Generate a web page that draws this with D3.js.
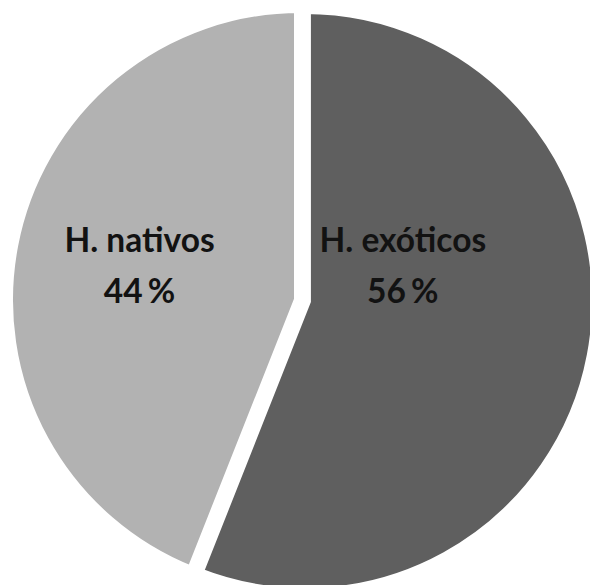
<!DOCTYPE html>
<html>
<head>
<meta charset="utf-8">
<script src="https://cdn.jsdelivr.net/npm/d3@7"></script>
<style>
  html, body { margin: 0; padding: 0; background: #fff; overflow: hidden; }
</style>
</head>
<body>
<script>
const categories = ["H. exóticos", "H. nativos"];
const percents = [56, 44];
const colors = ["#5f5f5f", "#b2b2b2"];
const explode = [5, 0];

const width = 590;
const height = 585;
const cx = 300;
const cy = 300;
const radius = 287;
const border = 12;

const svg = d3.select("body")
    .append("svg")
    .attr("width", width)
    .attr("height", height);

const g = svg.append("g")
    .attr("transform", `translate(${cx},${cy})`);

const pie = d3.pie().sort(null).value(d => d);
const arcs = pie(percents);

// white border (half of it sits outside the visible radius)
const arc = d3.arc().innerRadius(0).outerRadius(radius + border / 2);

const shift = (d, i) => {
    const mid = (d.startAngle + d.endAngle) / 2;
    return [explode[i] * Math.sin(mid), -explode[i] * Math.cos(mid)];
};

const slices = g.selectAll("g.slice")
    .data(arcs)
    .enter()
    .append("g")
    .attr("class", "slice")
    .attr("transform", (d, i) => `translate(${shift(d, i)})`);

slices.append("path")
    .attr("d", arc)
    .attr("fill", (d, i) => colors[i])
    .attr("stroke", "#fff")
    .attr("stroke-width", border)
    .attr("stroke-linejoin", "miter");

// label anchors (angle from top, distance from slice centre)
const labelPos = [
    { angle: 70.3 * Math.PI / 180, r: 104 },
    { angle: 282 * Math.PI / 180, r: 164 }
];

const labels = slices.append("text")
    .attr("text-anchor", "middle")
    .attr("font-family", "Lato, 'Open Sans', sans-serif")
    .attr("font-weight", "bold")
    .attr("font-size", 33.5)
    .attr("fill", "#121212")
    .attr("transform", (d, i) => {
        const p = labelPos[i];
        return `translate(${p.r * Math.sin(p.angle)},${-p.r * Math.cos(p.angle)})`;
    });

labels.append("tspan")
    .attr("x", 0)
    .attr("y", -14)
    .text((d, i) => categories[i]);

labels.append("tspan")
    .attr("x", 0)
    .attr("y", 37)
    .attr("word-spacing", -3)
    .text((d, i) => `${percents[i]} %`);
</script>
</body>
</html>
